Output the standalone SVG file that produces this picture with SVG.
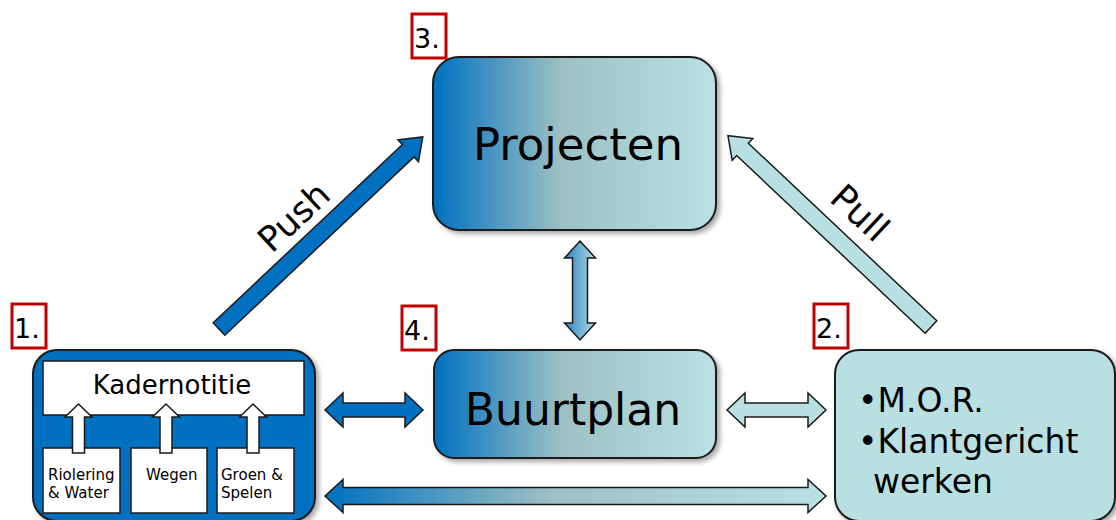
<svg xmlns="http://www.w3.org/2000/svg" width="1116" height="520" viewBox="0 0 1116 520">
<defs>
<linearGradient id="gBox" x1="0" y1="0" x2="1" y2="0">
<stop offset="0" stop-color="#0070C0"/>
<stop offset="0.45" stop-color="#9CC0C3"/>
<stop offset="1" stop-color="#B9E2E5"/>
</linearGradient>
<linearGradient id="gV" x1="0" y1="0" x2="1" y2="0">
<stop offset="0" stop-color="#2A84C6"/>
<stop offset="1" stop-color="#B2DCE0"/>
</linearGradient>
<filter id="sh" x="-10%" y="-10%" width="125%" height="130%">
<feDropShadow dx="3" dy="3" stdDeviation="2.5" flood-color="#000" flood-opacity="0.35"/>
</filter>
<style>
.box{stroke:#1a1a1a;stroke-width:2}
.num{fill:#fff;stroke:#C00000;stroke-width:3}
.numt{font-family:"DejaVu Sans",Verdana,sans-serif;font-size:27px;fill:#000}
.t{font-family:"DejaVu Sans",Verdana,sans-serif;fill:#000}
.arr{stroke:#1a1a1a;stroke-width:1.5;stroke-linejoin:miter}
.sm{fill:#fff;stroke:#1a1a1a;stroke-width:1.5}
</style>
</defs>

<g id="connectors">
<polygon class="arr" fill="#0070C0" transform="translate(219,329) rotate(-43.3)" points="0,-8.5 260,-8.5 260,-15 280,0 260,15 260,8.5 0,8.5"/>
<polygon class="arr" fill="#B8E0E3" transform="translate(931,327) rotate(-136.7)" points="0,-8.5 259,-8.5 259,-15 279,0 259,15 259,8.5 0,8.5"/>
<polygon class="arr" fill="url(#gV)" points="580,241 595.5,258 587.5,258 587.5,323 595.5,323 580,340 564.5,323 572.5,323 572.5,258 564.5,258"/>
<polygon class="arr" fill="#0070C0" points="325,410 343,393 343,403 405,403 405,393 423,410 405,427 405,417 343,417 343,427"/>
<polygon class="arr" fill="#B8E0E3" points="727,410 745,393 745,403 808,403 808,393 826,410 808,427 808,417 745,417 745,427"/>
<polygon class="arr" fill="url(#gBox)" points="325,496 343,479.5 343,487.5 808,487.5 808,479.5 826,496 808,512.5 808,504.5 343,504.5 343,512.5"/>
<text class="t" font-size="35" transform="translate(294,217) rotate(-43)" text-anchor="middle" dominant-baseline="central">Push</text>
<text class="t" font-size="36" transform="translate(860,213) rotate(43)" text-anchor="middle" dominant-baseline="central">Pull</text>
</g>

<g id="node-projecten">
<rect class="box" x="433" y="57" width="283" height="173" rx="26" fill="url(#gBox)" filter="url(#sh)"/>
<text class="t" x="578" y="160" font-size="45" text-anchor="middle">Projecten</text>
</g>

<g id="node-buurtplan">
<rect class="box" x="434" y="350" width="282" height="108" rx="20" fill="url(#gBox)" filter="url(#sh)"/>
<text class="t" x="573" y="425" font-size="44" text-anchor="middle">Buurtplan</text>
</g>

<g id="node-kader">
<rect class="box" x="33" y="350" width="282" height="171" rx="24" fill="#0070C0" filter="url(#sh)"/>
<rect class="sm" x="43" y="361" width="261" height="54"/>
<text class="t" x="172" y="394" font-size="26" text-anchor="middle">Kadernotitie</text>
<rect class="sm" x="43" y="448" width="77" height="65"/>
<rect class="sm" x="131" y="448" width="76" height="65"/>
<rect class="sm" x="217" y="448" width="77" height="65"/>
<polygon class="sm" points="78.5,404 92,417 84.5,417 84.5,453 72.5,453 72.5,417 65,417"/>
<polygon class="sm" points="166,404 179.5,417 172,417 172,453 160,453 160,417 152.5,417"/>
<polygon class="sm" points="253,404 266.5,417 259,417 259,453 247,453 247,417 239.5,417"/>
<text class="t" font-size="15"><tspan x="48" y="480">Riolering</tspan><tspan x="48" y="498">&amp; Water</tspan></text>
<text class="t" font-size="15" x="146" y="480">Wegen</text>
<text class="t" font-size="15"><tspan x="221" y="480">Groen &amp;</tspan><tspan x="221" y="498">Spelen</tspan></text>
</g>

<g id="node-mor">
<rect class="box" x="835" y="350" width="280" height="171" rx="24" fill="#B8E0E3" filter="url(#sh)"/>
<text class="t" font-size="33"><tspan x="858" y="412">•M.O.R.</tspan><tspan x="858" y="453">•Klantgericht</tspan><tspan x="873" y="493">werken</tspan></text>
</g>

<g id="label-1"><rect class="num" x="12" y="304" width="34" height="44"/><text class="numt" x="14" y="338">1.</text></g>
<g id="label-2"><rect class="num" x="814" y="304" width="34" height="44"/><text class="numt" x="816" y="338">2.</text></g>
<g id="label-3"><rect class="num" x="412" y="14" width="34" height="44"/><text class="numt" x="414" y="48">3.</text></g>
<g id="label-4"><rect class="num" x="402" y="306" width="34" height="44"/><text class="numt" x="404" y="340">4.</text></g>
</svg>
